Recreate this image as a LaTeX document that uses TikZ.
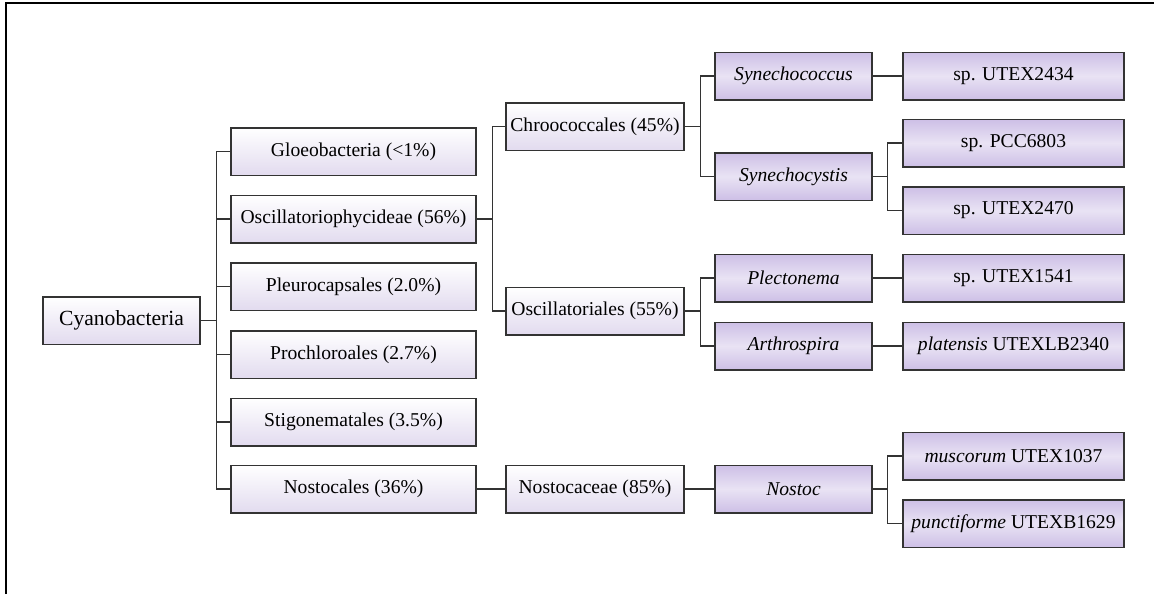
\documentclass[tikz,border=0pt]{standalone}
\usepackage{fontspec}
\setmainfont{Liberation Serif}

\definecolor{lavclair}{HTML}{E2DBEF}
\definecolor{lavfonce}{HTML}{CDBFE6}
\definecolor{lavmilieu}{HTML}{E9E3F4}
\definecolor{trait}{HTML}{333333}

\tikzset{
  boite/.style={draw=trait, line width=0.75pt, rectangle, inner sep=0pt,
    minimum height=23.75pt, font=\rmfamily\fontsize{9.8}{12}\selectfont,
    top color=white, bottom color=lavclair},
  boitegenre/.style={boite, top color=lavfonce, bottom color=lavfonce,
    middle color=lavmilieu},
  lien/.style={draw=trait, line width=0.7pt},
}

\begin{document}
\begin{tikzpicture}[x=0.5pt,y=-0.5pt]

\useasboundingbox (0,0) rectangle (1154,594);

% -----------------------
% Cadre
% -----------------------
\draw[line width=1pt, black] (6,594) -- (6,3) -- (1154,3);

% -----------------------
% Racine et ordres
% -----------------------
\node[boite, minimum width=78.5pt, font=\rmfamily\fontsize{10.8}{13}\selectfont] (cyano) at (121.5,320.5) {Cyanobacteria};

\node[boite, minimum width=122.5pt] (gloeo)  at (353.5,151.5) {Gloeobacteria (<1\%)};
\node[boite, minimum width=122.5pt] (oscph)  at (353.5,219)   {Oscillatoriophycideae (56\%)};
\node[boite, minimum width=122.5pt] (pleuro) at (353.5,286.5) {Pleurocapsales (2.0\%)};
\node[boite, minimum width=122.5pt] (prochl) at (353.5,354.5) {Prochloroales (2.7\%)};
\node[boite, minimum width=122.5pt] (stigo)  at (353.5,422)   {Stigonematales (3.5\%)};
\node[boite, minimum width=122.5pt] (nosto)  at (353.5,489)   {Nostocales (36\%)};

% -----------------------
% Sous-groupes
% -----------------------
\node[boite, minimum width=89pt] (chroo)  at (595,126.5) {Chroococcales (45\%)};
\node[boite, minimum width=89pt] (oscil)  at (595,311)   {Oscillatoriales (55\%)};
\node[boite, minimum width=89pt] (nostca) at (595,489)   {Nostocaceae (85\%)};

% -----------------------
% Genres
% -----------------------
\node[boitegenre, minimum width=78.5pt] (synco) at (793.5,76)    {\textit{Synechococcus}};
\node[boitegenre, minimum width=78.5pt] (synci) at (793.5,176.5) {\textit{Synechocystis}};
\node[boitegenre, minimum width=78.5pt] (plect) at (793.5,278)   {\textit{Plectonema}};
\node[boitegenre, minimum width=78.5pt] (arthr) at (793.5,346)   {\textit{Arthrospira}};
\node[boitegenre, minimum width=78.5pt] (nostc) at (793.5,489)   {\textit{Nostoc}};

% -----------------------
% Souches
% -----------------------
\node[boitegenre, minimum width=110.5pt] (s2434) at (1013.5,76)    {sp. UTEX2434};
\node[boitegenre, minimum width=110.5pt] (s6803) at (1013.5,143)   {sp. PCC6803};
\node[boitegenre, minimum width=110.5pt] (s2470) at (1013.5,210.5) {sp. UTEX2470};
\node[boitegenre, minimum width=110.5pt] (s1541) at (1013.5,278)   {sp. UTEX1541};
\node[boitegenre, minimum width=110.5pt] (s2340) at (1013.5,346)   {\textit{platensis} UTEXLB2340};
\node[boitegenre, minimum width=110.5pt] (s1037) at (1013.5,456)   {\textit{muscorum} UTEX1037};
\node[boitegenre, minimum width=110.5pt] (s1629) at (1013.5,523.5) {\textit{punctiforme} UTEXB1629};

% -----------------------
% Liens
% -----------------------
\foreach \c in {gloeo,oscph,pleuro,prochl,stigo,nosto}
  \draw[lien] (cyano.east) -- ++(16,0) |- (\c.west);

\foreach \c in {chroo,oscil}
  \draw[lien] (oscph.east) -- ++(16,0) |- (\c.west);
\draw[lien] (nosto.east) -- (nostca.west);

\foreach \c in {synco,synci}
  \draw[lien] (chroo.east) -- ++(16,0) |- (\c.west);
\foreach \c in {plect,arthr}
  \draw[lien] (oscil.east) -- ++(16,0) |- (\c.west);
\draw[lien] (nostca.east) -- (nostc.west);

\draw[lien] (synco.east) -- (s2434.west);
\foreach \c in {s6803,s2470}
  \draw[lien] (synci.east) -- ++(15,0) |- (\c.west);
\draw[lien] (plect.east) -- (s1541.west);
\draw[lien] (arthr.east) -- (s2340.west);
\foreach \c in {s1037,s1629}
  \draw[lien] (nostc.east) -- ++(15,0) |- (\c.west);

\end{tikzpicture}
\end{document}
